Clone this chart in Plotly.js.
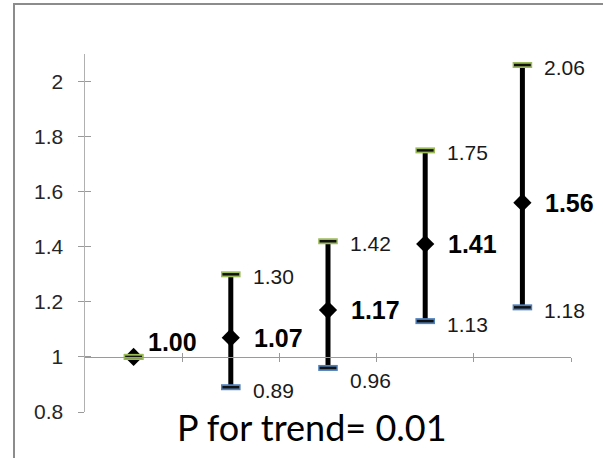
<!DOCTYPE html>
<html>
<head>
<meta charset="utf-8">
<script src="https://cdn.plot.ly/plotly-3.0.1.min.js"></script>
<style>
  html, body { margin: 0; padding: 0; background: #fff; overflow: hidden; }
  #wrap { position: relative; width: 603px; height: 458px; }
  #chart { position: absolute; left: 0; top: 0; width: 603px; height: 458px; }
  #frame { position: absolute; left: 13px; top: 3px; width: 700px; height: 600px;
           border-left: 2px solid #8c8c8c; border-top: 2px solid #8c8c8c; pointer-events: none; }
</style>
</head>
<body>
<div id="wrap">
  <div id="chart"></div>
  <div id="frame"></div>
</div>
<script>
// ---- data ----
const categories = ['Group 1', 'Group 2', 'Group 3', 'Group 4', 'Group 5'];
const estimate   = [1.00, 1.07, 1.17, 1.41, 1.56];
const upperCI    = [1.00, 1.30, 1.42, 1.75, 2.06];
const lowerCI    = [1.00, 0.89, 0.96, 1.13, 1.18];
const yTickVals  = [0.8, 1, 1.2, 1.4, 1.6, 1.8, 2];
const yTickText  = ['0.8', '1', '1.2', '1.4', '1.6', '1.8', '2'];
const trendText  = 'P for trend= 0.01';

// ---- drawing ----
const idx = categories.map((_, i) => i);
const yRange = [0.8, 2.1];
const xRange = [-0.5, categories.length - 0.5];
const boundaries = categories.map((_, i) => i + 0.5);
const axisPos = (1 - yRange[0]) / (yRange[1] - yRange[0]);

const BLACK = '#000000';
const GREEN = '#9BBB59';
const BLUE = '#4F81BD';

const traces = [
  {
    x: idx, y: estimate, type: 'scatter', mode: 'markers',
    marker: { symbol: 'diamond', size: 14, color: BLACK },
    error_y: {
      type: 'data', symmetric: false,
      array: upperCI.map((u, i) => u - estimate[i]),
      arrayminus: lowerCI.map((l, i) => estimate[i] - l),
      color: BLACK, thickness: 5, width: 0
    },
    cliponaxis: false, hoverinfo: 'skip', showlegend: false
  },
  { x: idx, y: lowerCI, type: 'scatter', mode: 'markers',
    marker: { symbol: 'line-ew', size: 14, line: { color: BLUE, width: 6 } },
    cliponaxis: false, hoverinfo: 'skip', showlegend: false },
  { x: idx, y: lowerCI, type: 'scatter', mode: 'markers',
    marker: { symbol: 'line-ew', size: 12, line: { color: '#111111', width: 2.5 } },
    cliponaxis: false, hoverinfo: 'skip', showlegend: false },
  { x: idx, y: upperCI, type: 'scatter', mode: 'markers',
    marker: { symbol: 'line-ew', size: 14, line: { color: GREEN, width: 6 } },
    cliponaxis: false, hoverinfo: 'skip', showlegend: false },
  { x: idx, y: upperCI, type: 'scatter', mode: 'markers',
    marker: { symbol: 'line-ew', size: 12, line: { color: '#111111', width: 2.5 } },
    cliponaxis: false, hoverinfo: 'skip', showlegend: false },
  // carrier for the inner half of the crossing tick marks
  { x: [], y: [], xaxis: 'x2', yaxis: 'y2', type: 'scatter', mode: 'markers',
    hoverinfo: 'skip', showlegend: false }
];

const annotations = [];
const LABEL_FONT = { family: 'Liberation Sans, Arial, sans-serif', size: 21, color: '#1a1a1a' };
const BOLD_FONT = { family: 'Liberation Sans, Arial, sans-serif', size: 25, color: '#000000', weight: 'bold' };
idx.forEach(i => {
  const firstShift = i === 0;
  annotations.push({
    x: i, y: estimate[i], xref: 'x', yref: 'y',
    text: '<b>' + estimate[i].toFixed(2) + '</b>', showarrow: false,
    xanchor: 'left', yanchor: 'middle',
    xshift: firstShift ? 12 : 21, yshift: firstShift ? 15 : 0,
    font: BOLD_FONT
  });
  if (i > 0) {
    annotations.push({
      x: i, y: upperCI[i], xref: 'x', yref: 'y',
      text: upperCI[i].toFixed(2), showarrow: false,
      xanchor: 'left', yanchor: 'middle', xshift: 20, yshift: -2,
      font: LABEL_FONT
    });
    annotations.push({
      x: i, y: lowerCI[i], xref: 'x', yref: 'y',
      text: lowerCI[i].toFixed(2), showarrow: false,
      xanchor: 'left', yanchor: 'middle', xshift: 20, yshift: i === 2 ? -13 : -3,
      font: LABEL_FONT
    });
  }
});
annotations.push({
  x: 0.468, y: 0.025, xref: 'paper', yref: 'paper',
  text: trendText, showarrow: false, xanchor: 'center', yanchor: 'top',
  font: { family: 'Lato, Open Sans, sans-serif', size: 36, color: '#000000' }
});

const axisGray = '#9a9a9a';
const layout = {
  width: 603, height: 458,
  margin: { l: 85, r: 32, t: 54, b: 46, pad: 0 },
  paper_bgcolor: '#ffffff', plot_bgcolor: '#ffffff',
  showlegend: false,
  xaxis: {
    range: xRange, anchor: 'free', position: axisPos,
    showgrid: false, zeroline: false, showline: true, linecolor: axisGray, linewidth: 1.5,
    tickmode: 'array', tickvals: boundaries, ticks: 'outside', ticklen: 4,
    tickcolor: axisGray, tickwidth: 1, showticklabels: false, fixedrange: true
  },
  xaxis2: {
    range: xRange, overlaying: 'x', anchor: 'free', position: axisPos,
    showgrid: false, zeroline: false, showline: false,
    tickmode: 'array', tickvals: boundaries, ticks: 'inside', ticklen: 4,
    tickcolor: axisGray, tickwidth: 1, showticklabels: false, fixedrange: true
  },
  yaxis: {
    range: yRange, showgrid: false, zeroline: false,
    showline: true, linecolor: '#b0b0b0', linewidth: 1.5,
    tickmode: 'array', tickvals: yTickVals, ticktext: yTickText,
    ticks: 'outside', ticklen: 6, tickcolor: axisGray, tickwidth: 1,
    ticklabelstandoff: 10,
    tickfont: { family: 'Liberation Sans, Arial, sans-serif', size: 21, color: '#262626' },
    fixedrange: true
  },
  yaxis2: {
    range: yRange, overlaying: 'y', anchor: 'x2', side: 'left',
    showgrid: false, zeroline: false, showline: false,
    tickmode: 'array', tickvals: yTickVals, ticks: 'inside', ticklen: 6,
    tickcolor: axisGray, tickwidth: 1, showticklabels: false, fixedrange: true
  },
  annotations: annotations
};

Plotly.newPlot('chart', traces, layout, { displayModeBar: false, staticPlot: true });
</script>
</body>
</html>
